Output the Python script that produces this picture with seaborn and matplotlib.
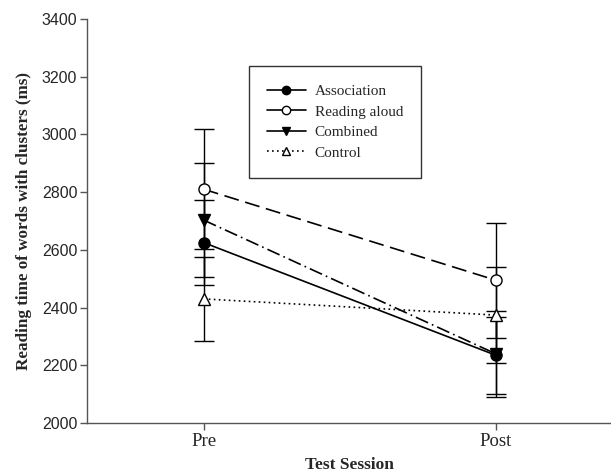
import numpy as np
import pandas as pd
import seaborn as sns
import matplotlib.pyplot as plt

sessions = ["Pre", "Post"]
groups = ["Association", "Reading aloud", "Combined", "Control"]
association = [2625, 2235]
reading_aloud = [2810, 2495]
combined = [2703, 2240]
control = [2430, 2374]
association_err = [148, 133]
reading_aloud_err = [208, 199]
combined_err = [197, 149]
control_err = [146, 166]

means = [association, reading_aloud, combined, control]
errs = [association_err, reading_aloud_err, combined_err, control_err]

sns.set_style("ticks")
fig = plt.figure(figsize=(6.11, 4.73), dpi=100)
ax = fig.add_axes([0.1424, 0.1057, 0.86, 0.8541])

styles = {
    "Association": dict(marker="o", mfc="black", linestyle="-"),
    "Reading aloud": dict(marker="o", mfc="white", dashes=(9, 4)),
    "Combined": dict(marker="v", mfc="black", dashes=(8, 2.5, 1, 2.5)),
    "Control": dict(marker="^", mfc="white", dashes=(1, 2)),
}

for name, m, e in zip(groups, means, errs):
    df = pd.DataFrame({"session": sessions, "rt": m})
    ax.errorbar(np.arange(2), m, yerr=e, fmt="none", ecolor="black",
                elinewidth=1, capsize=7.5, capthick=1, zorder=2)
    sns.lineplot(data=df, x="session", y="rt", ax=ax, color="black",
                 linewidth=1.2, markersize=8, mec="black", mew=1,
                 label=name, zorder=3, sort=False, **styles[name])

ax.set_xlim(-0.4, 1.4)
ax.set_ylim(2000, 3400)
ax.set_yticks(np.arange(2000, 3401, 200))
ax.set_xticks([0, 1])
ax.set_xticklabels(sessions)

for s in ["top", "right"]:
    ax.spines[s].set_visible(False)
for s in ["left", "bottom"]:
    ax.spines[s].set_color("#555555")
    ax.spines[s].set_linewidth(1)
ax.tick_params(axis="both", direction="out", length=5, width=1,
               color="#555555", labelsize=11.5, pad=2)
for lab in ax.get_yticklabels():
    lab.set_fontfamily("Liberation Sans")
for lab in ax.get_xticklabels():
    lab.set_fontfamily("Liberation Serif")
    lab.set_fontsize(13.5)

ax.set_xlabel("Test Session", fontfamily="Liberation Serif",
              fontweight="bold", fontsize=12.5, labelpad=5)
ax.set_ylabel("Reading time of words with clusters (ms)",
              fontfamily="Liberation Serif", fontweight="bold",
              fontsize=12.3, labelpad=7)

leg = ax.legend(loc="upper left", bbox_to_anchor=(249 / 611, 1 - 66 / 473),
                bbox_transform=fig.transFigure, frameon=True, fancybox=False,
                edgecolor="black", borderaxespad=0, handlelength=2.5,
                handletextpad=0.6, borderpad=1.2, labelspacing=0.45,
                prop={"family": "Liberation Serif", "size": 11})
leg.get_frame().set_linewidth(1)
for h, name in zip(leg.legend_handles, groups):
    h.set_markersize(6)
    if name in ("Reading aloud", "Combined"):
        h.set_linestyle("-")

fig.savefig("out.png", dpi=100)
